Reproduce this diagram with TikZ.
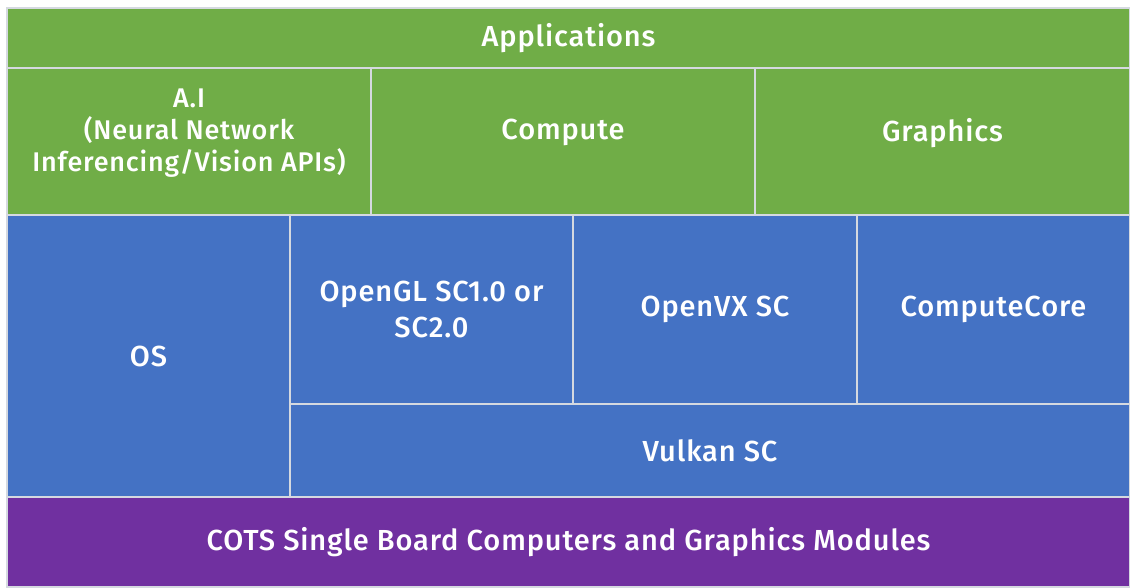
\documentclass[tikz,border=0pt]{standalone}
\usepackage{fontspec}
\setmainfont{Fira Sans Medium}[LetterSpace=3]
\definecolor{appgreen}{HTML}{70AD47}
\definecolor{swblue}{HTML}{4472C4}
\definecolor{hwpurple}{HTML}{7030A0}
\definecolor{sepgray}{HTML}{D5D9E0}
\tikzset{
  layer/.style={draw=sepgray, line width=1.5pt, text=white, align=center,
    inner sep=0pt, font=\fontsize{29}{36}\selectfont},
  green/.style={layer, fill=appgreen},
  blue/.style={layer, fill=swblue},
  purple/.style={layer, fill=hwpurple}
}
\begin{document}
\begin{tikzpicture}[x=1pt, y=-1pt]
    \useasboundingbox (0,0) rectangle (1130,587);
    \draw (568.5, 38) node[green, minimum width=1123, minimum height=60] (apps) {Applications};
    \draw (189, 141.5) node[green, minimum width=364, minimum height=147, font=\fontsize{27}{32}\selectfont] (ai)
        {\parbox[c][147pt][t]{360pt}{\centering\vspace*{21pt}A.I\\(Neural Network\\Inferencing/Vision APIs)}};
    \draw (563, 141.5) node[green, minimum width=384, minimum height=147, text depth=24] (compute) {Compute};
    \draw (942.5, 141.5) node[green, minimum width=375, minimum height=147, text depth=24] (graphics) {Graphics};

    \draw (148.5, 356) node[blue, minimum width=283, minimum height=282] (os) {OS};
    \draw (431.5, 309.5) node[blue, minimum width=283, minimum height=189] (opengl) {OpenGL SC1.0 or\\SC2.0};
    \draw (715, 309.5) node[blue, minimum width=284, minimum height=189] (openvx) {OpenVX SC};
    \draw (993.5, 309.5) node[blue, minimum width=273, minimum height=189] (core) {ComputeCore};
    \draw (710, 450.5) node[blue, minimum width=840, minimum height=93] (vulkan) {Vulkan SC};

    \draw (568.5, 542) node[purple, minimum width=1123, minimum height=90] (cots) {COTS Single Board Computers and Graphics Modules};
\end{tikzpicture}
\end{document}
